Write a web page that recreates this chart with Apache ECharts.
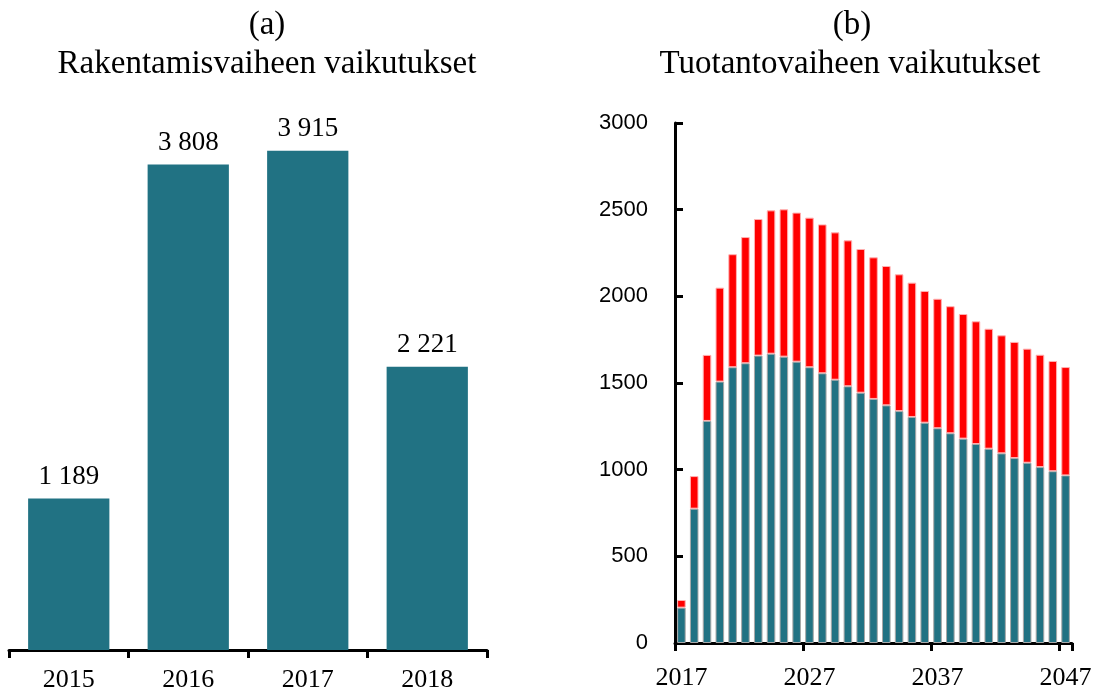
<!DOCTYPE html>
<html>
<head>
<meta charset="utf-8">
<script src="https://cdn.jsdelivr.net/npm/echarts@6/dist/echarts.min.js"></script>
<style>
  html, body { margin: 0; padding: 0; background: #fff; }
  #main { width: 1100px; height: 691px; }
</style>
</head>
<body>
<div id="main"></div>
<script>
// (a) rakentamisvaihe
const buildYears = ["2015", "2016", "2017", "2018"]
const buildValues = [1189, 3808, 3915, 2221]

// (b) tuotantovaihe
const prodYears = ["2017", "2018", "2019", "2020", "2021", "2022", "2023", "2024", "2025", "2026",
  "2027", "2028", "2029", "2030", "2031", "2032", "2033", "2034", "2035", "2036",
  "2037", "2038", "2039", "2040", "2041", "2042", "2043", "2044", "2045", "2046", "2047"]
const prodBase = [204, 775, 1281, 1508, 1591, 1614, 1658, 1669, 1652, 1623,
  1591, 1556, 1519, 1481, 1444, 1408, 1371, 1338, 1304, 1271,
  1239, 1210, 1179, 1148, 1121, 1094, 1067, 1040, 1015, 991, 967]
const prodExtra = [44, 188, 381, 542, 652, 728, 788, 827, 850, 860,
  863, 859, 850, 842, 829, 817, 804, 789, 775, 760,
  747, 733, 719, 708, 692, 681, 670, 658, 648, 636, 625]

const teal = "#217283"
const red = "#ff0000"
const serif = "Liberation Serif"
const sans = "Liberation Sans"

// tuhaterotin välilyönnillä
const fmt = (v) => String(v).replace(/\B(?=(\d{3})+(?!\d))/g, " ")

const myChart = echarts.init(document.getElementById("main"))

const titleStyle = { fontFamily: serif, fontSize: 33, fontWeight: "normal", color: "#000" }

const option = {
  animation: false,
  textStyle: { fontFamily: serif, color: "#000" },
  title: [
    { text: "(a)", left: 262, top: 4, textAlign: "center", textStyle: titleStyle },
    { text: "Rakentamisvaiheen vaikutukset", left: 262, top: 43, textAlign: "center", textStyle: titleStyle },
    { text: "(b)", left: 847, top: 4, textAlign: "center", textStyle: titleStyle },
    { text: "Tuotantovaiheen vaikutukset", left: 845, top: 43, textAlign: "center", textStyle: titleStyle }
  ],
  grid: [
    { left: 9, right: 613, top: 140, bottom: 41, outerBoundsMode: "none" },
    { left: 675, right: 28, top: 123, bottom: 48, outerBoundsMode: "none" }
  ],
  xAxis: [
    {
      type: "category",
      gridIndex: 0,
      data: buildYears,
      axisLine: { lineStyle: { color: "#000", width: 3 } },
      axisTick: { show: true, length: 8, lineStyle: { color: "#000", width: 3 } },
      axisLabel: { color: "#000", fontFamily: serif, fontSize: 26, margin: 17 }
    },
    {
      type: "category",
      gridIndex: 1,
      data: prodYears,
      axisLine: { lineStyle: { color: "#000", width: 3 } },
      axisTick: { show: true, interval: (i) => i % 10 === 0, length: 8, lineStyle: { color: "#000", width: 3 } },
      axisLabel: { interval: 9, color: "#000", fontFamily: serif, fontSize: 26, margin: 22 }
    }
  ],
  yAxis: [
    {
      type: "value",
      gridIndex: 0,
      min: 0,
      max: 4000,
      show: false
    },
    {
      type: "value",
      gridIndex: 1,
      min: 0,
      max: 3000,
      interval: 500,
      splitLine: { show: false },
      axisLine: { show: true, lineStyle: { color: "#000", width: 3 } },
      axisTick: { show: true, inside: true, length: 8, lineStyle: { color: "#000", width: 3 } },
      axisLabel: { color: "#000", fontFamily: sans, fontSize: 22, margin: 27, formatter: (v) => String(v) }
    }
  ],
  series: [
    {
      type: "bar",
      xAxisIndex: 0,
      yAxisIndex: 0,
      data: buildValues,
      barCategoryGap: "32%",
      itemStyle: { color: teal },
      label: {
        show: true,
        position: "top",
        distance: 8,
        color: "#000",
        fontFamily: serif,
        fontSize: 27,
        formatter: (p) => fmt(p.value)
      }
    },
    {
      type: "bar",
      xAxisIndex: 1,
      yAxisIndex: 1,
      stack: "tuotanto",
      data: prodBase,
      barCategoryGap: "33%",
      itemStyle: { color: teal, borderColor: "#a8a8a8", borderWidth: 1 }
    },
    {
      type: "bar",
      xAxisIndex: 1,
      yAxisIndex: 1,
      stack: "tuotanto",
      data: prodExtra,
      barCategoryGap: "33%",
      itemStyle: { color: red, borderColor: "#ffb0b0", borderWidth: 1 }
    }
  ]
}

myChart.setOption(option)
</script>
</body>
</html>
